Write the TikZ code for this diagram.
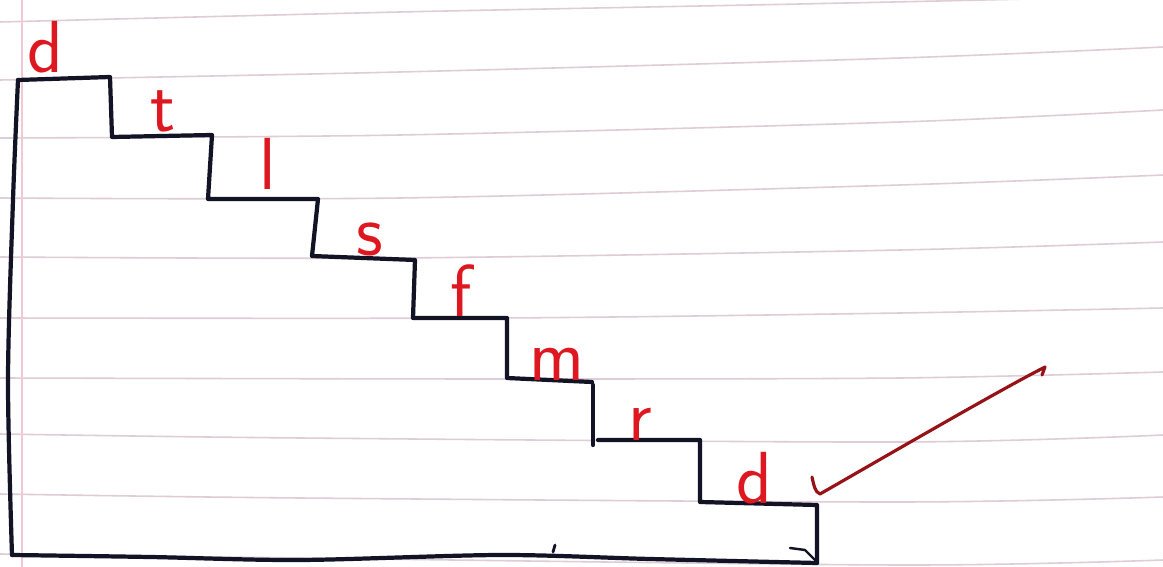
\documentclass[tikz,border=0pt]{standalone}
\usetikzlibrary{calc}
\definecolor{ink}{RGB}{18,20,38}
\definecolor{redink}{RGB}{222,24,32}
\definecolor{checkred}{RGB}{150,18,22}
\definecolor{ruling}{RGB}{222,204,214}
\definecolor{margin}{RGB}{243,200,212}
\tikzset{
  rule/.style={draw=ruling,line width=0.9pt},
  stair/.style={draw=ink,line width=2.4pt,line join=round,line cap=round},
  lbl/.style={text=redink,font=\sffamily\fontsize{42}{42}\selectfont,inner sep=0pt,anchor=base},
  tick/.style={draw=checkred,line width=1.8pt,line cap=round,line join=round}
}
\begin{document}
\begin{tikzpicture}[x=0.02cm,y=-0.02cm]
\useasboundingbox (0,0) rectangle (1163,567);
\fill[white] (0,0) rectangle (1163,567);
% ruled paper
\draw[rule] plot[smooth] coordinates {(0,22) (400,12) (800,4) (1163,-4)};
\draw[rule] plot[smooth] coordinates {(0,80) (400,72) (900,58) (1163,47)};
\draw[rule] plot[smooth] coordinates {(0,138) (400,135) (900,122) (1163,110)};
\draw[rule] plot[smooth] coordinates {(0,198) (400,198) (900,185) (1163,175)};
\draw[rule] plot[smooth] coordinates {(0,257) (400,258) (900,250) (1163,242)};
\draw[rule] plot[smooth] coordinates {(0,318) (500,318) (900,313) (1163,308)};
\draw[rule] plot[smooth] coordinates {(0,378) (500,379) (900,378) (1163,372)};
\draw[rule] plot[smooth] coordinates {(0,434) (300,438) (900,442) (1163,435)};
\draw[rule] plot[smooth] coordinates {(0,494) (300,498) (900,502) (1163,497)};
\draw[rule] plot[smooth] coordinates {(0,554) (300,558) (900,565) (1163,560)};
\draw[draw=margin,line width=0.9pt] (22,0) -- (22,567);
% staircase outline
\draw[stair] (18,80) -- (110,77) -- (112,137) -- (212,135) -- (208,199)
  -- (318,199) -- (312,256) -- (415,260) -- (413,318) -- (507,318)
  -- (507,378) -- (592,382);
\draw[stair] (593,385) -- (593,445);
\draw[stair] (598,440) -- (700,440) -- (700,502) -- (817,505) -- (817,563);
\draw[stair] plot[smooth] coordinates {(817,563) (650,559) (500,555) (300,560) (150,557) (12,555)};
\draw[stair] plot[smooth] coordinates {(12,555) (8,380) (13,200) (18,80)};
\draw[ink,line width=1.4pt,line cap=round] (790,548) -- (805,550) -- (815,560);
\draw[ink,line width=1.6pt,line cap=round] (555,545) -- (553,552);
% labels
\node[lbl] (d1) at (45,73) {d};
\node[lbl] (t) at (163,132) {t};
\node[lbl] (l) at (268,190) {l};
\node[lbl] (s) at (370,256) {s};
\node[lbl] (f) at (461,317) {f};
\node[lbl] (m) at (557,381) {m};
\node[lbl] (r) at (640,440) {r};
\node[lbl] (d2) at (754,503) {d};
% check mark
\draw[tick] (812,477) .. controls (814,486) and (815,492) .. (820,494)
  .. controls (900,448) and (1000,390) .. (1045,367) -- (1042,375);
\end{tikzpicture}
\end{document}
